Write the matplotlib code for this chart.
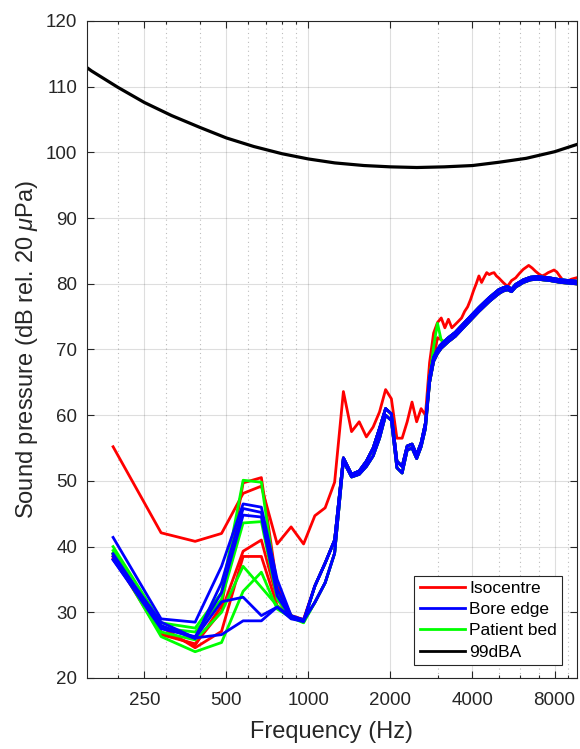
import numpy as np
import matplotlib
matplotlib.use("Agg")
import matplotlib.pyplot as plt
from matplotlib.lines import Line2D
from matplotlib.ticker import FixedLocator, LogLocator, NullFormatter

plt.rcParams["font.family"] = ["Liberation Sans", "DejaVu Sans"]
plt.rcParams["mathtext.fontset"] = "custom"
plt.rcParams["mathtext.rm"] = "Liberation Sans"
plt.rcParams["mathtext.it"] = "Liberation Sans:italic"

AX_COL = "#262626"

# ---- 99 dBA limit curve -------------------------------------------------
dba_freq = [154, 160, 200, 250, 315, 400, 500, 630, 800, 1000, 1250, 1600,
            2000, 2500, 3150, 4000, 5000, 6300, 8000, 9650]
dba_db = [112.9, 112.4, 109.9, 107.6, 105.6, 103.8, 102.2, 100.9, 99.8, 99.0,
          98.4, 98.0, 97.8, 97.7, 97.8, 98.0, 98.5, 99.1, 100.1, 101.2]

# ---- measured spectra (96 Hz bins) --------------------------------------
lf_freq = [192, 288, 384, 480, 576, 672, 768, 864, 960]

# isocentre
iso_lf_b = [38.9, 27.0, 25.0, 31.0, 49.7, 50.5, 34.0, 29.5, 28.8]
iso_lf_c = [38.5, 26.6, 25.2, 30.2, 39.3, 41.0, 32.0, 29.3, 28.7]
iso_lf_d = [38.2, 27.8, 24.6, 27.1, 38.5, 38.5, 31.0, 29.5, 28.9]
# bore edge
bore_lf_a = [41.4, 29.0, 28.5, 37.0, 46.5, 46.0, 35.0, 29.5, 28.8]
bore_lf_b = [38.9, 28.0, 26.0, 34.5, 45.8, 45.2, 33.5, 29.3, 28.7]
bore_lf_c = [38.0, 27.5, 26.3, 33.0, 44.8, 44.5, 32.5, 29.2, 28.6]
bore_lf_d = [38.5, 28.5, 26.1, 31.6, 32.3, 29.5, 30.8, 29.4, 28.9]
bore_lf_e = [38.0, 27.8, 26.1, 26.6, 28.7, 28.7, 30.8, 29.0, 28.6]
# patient bed
bed_lf_a = [40.0, 28.4, 27.6, 33.0, 50.1, 49.8, 33.0, 29.5, 28.6]
bed_lf_b = [39.4, 27.6, 27.0, 32.0, 43.6, 43.8, 32.0, 29.3, 28.5]
bed_lf_c = [38.8, 26.3, 24.0, 25.4, 33.2, 36.1, 30.5, 29.2, 28.4]
bed_lf_d = [39.0, 27.0, 25.8, 30.0, 37.0, 33.8, 31.0, 29.3, 28.5]

# common band above 1 kHz (upper / lower edge of the bundle)
mid_freq = [1056, 1152, 1248, 1344, 1440, 1536, 1632, 1728, 1824, 1920,
            2016, 2112, 2208, 2304, 2400, 2496, 2592, 2688]
mid_hi = [34.0, 37.5, 41.0, 53.5, 51.0, 51.5, 53.0, 55.0, 58.0, 61.0,
          60.2, 53.0, 52.2, 55.3, 55.6, 54.0, 55.8, 58.8]
mid_lo = [31.5, 34.5, 39.0, 53.0, 50.6, 51.0, 52.2, 53.8, 56.5, 60.0,
          59.2, 52.0, 51.2, 54.7, 55.0, 53.4, 55.2, 58.0]
hf_freq = [2784, 2880, 2976, 3072, 3264, 3456, 3840, 4224, 4608, 4992,
           5184, 5376, 5568, 5760, 6144, 6528, 6912, 7680, 8448, 9600]
hf_hi = [65.8, 68.8, 70.0, 70.8, 71.8, 72.6, 74.6, 76.4, 77.9, 79.1,
         79.4, 79.6, 79.2, 79.9, 80.6, 81.0, 81.1, 80.9, 80.6, 80.4]
hf_lo = [65.0, 68.2, 69.4, 70.2, 71.2, 72.0, 74.0, 75.8, 77.3, 78.5,
         78.9, 79.1, 78.8, 79.5, 80.2, 80.6, 80.7, 80.5, 80.2, 80.0]

# isocentre run that stays above the rest
iso_a_freq = [192, 288, 384, 480, 576, 672, 768, 864, 960, 1056, 1152, 1248,
              1344, 1440, 1536, 1632, 1728, 1824, 1920, 2016, 2112, 2208,
              2304, 2400, 2496, 2592, 2688, 2784, 2880, 2976, 3072, 3168,
              3264, 3360, 3456, 3552, 3648, 3744, 3840, 3936, 4032, 4128,
              4224, 4320, 4416, 4512, 4608, 4704, 4800, 4896, 4992, 5184,
              5376, 5568, 5760, 5952, 6144, 6336, 6432, 6624, 6816, 7008,
              7200, 7392, 7584, 7776, 7968, 8160, 8352, 8640, 8928, 9216, 9600]
iso_a_db = [55.2, 42.1, 40.8, 42.0, 48.1, 49.2, 40.4, 43.0, 40.4, 44.7, 45.9,
            49.8, 63.6, 57.5, 59.0, 56.7, 58.2, 60.5, 63.9, 62.5, 56.5, 56.5,
            59.0, 62.0, 59.0, 61.0, 60.0, 68.0, 72.5, 74.1, 74.8, 73.3, 74.6,
            73.3, 73.8, 74.3, 74.8, 75.8, 76.5, 77.6, 78.9, 80.0, 81.2, 80.2,
            81.0, 81.7, 81.4, 81.6, 81.7, 81.2, 80.9, 80.2, 79.6, 80.5, 80.9,
            81.6, 82.2, 82.6, 82.8, 82.4, 81.9, 81.5, 81.2, 81.4, 81.7, 81.9,
            82.1, 81.8, 81.2, 80.4, 80.4, 80.7, 80.9]

# short excursions around 3 kHz
bed_spike_freq = [2784, 2880, 2976, 3072, 3168, 3264]
bed_spike_db = [65.5, 70.4, 74.0, 71.4, 71.2, 71.6]
iso_spike_freq = [2880, 2976, 3072, 3168]
iso_spike_db = [68.5, 71.8, 71.5, 71.0]

XTICKS = [250, 500, 1000, 2000, 4000, 8000]
YTICKS = list(range(20, 121, 10))

RED, BLUE, GREEN = "#ff0000", "#0000ff", "#00ff00"
LW = 2.0


def spectrum(lf, mid, hf):
    f = lf_freq + mid_freq + hf_freq
    return f, lf + mid + hf


fig = plt.figure(figsize=(5.8, 7.49), dpi=100)
ax = fig.add_axes([87 / 580, 1 - 678 / 749, (576.7 - 87) / 580, 657 / 749])

# isocentre
ax.plot(iso_a_freq, iso_a_db, color=RED, lw=LW)
for lf, mid, hf in [(iso_lf_b, mid_hi, hf_hi), (iso_lf_c, mid_lo, hf_lo),
                    (iso_lf_d, mid_hi, hf_lo)]:
    ax.plot(*spectrum(lf, mid, hf), color=RED, lw=LW)
ax.plot(iso_spike_freq, iso_spike_db, color=RED, lw=LW)

# patient bed
for lf, mid, hf in [(bed_lf_a, mid_lo, hf_hi), (bed_lf_b, mid_hi, hf_lo),
                    (bed_lf_c, mid_lo, hf_lo), (bed_lf_d, mid_hi, hf_hi)]:
    ax.plot(*spectrum(lf, mid, hf), color=GREEN, lw=LW)
ax.plot(bed_spike_freq, bed_spike_db, color=GREEN, lw=LW)

# bore edge
for lf, mid, hf in [(bore_lf_a, mid_hi, hf_hi), (bore_lf_b, mid_lo, hf_lo),
                    (bore_lf_c, mid_hi, hf_lo), (bore_lf_d, mid_lo, hf_hi),
                    (bore_lf_e, mid_hi, hf_hi)]:
    ax.plot(*spectrum(lf, mid, hf), color=BLUE, lw=LW)

ax.plot(dba_freq, dba_db, color="black", lw=LW + 0.3)

ax.set_xscale("log")
ax.set_xlim(154, 9650)
ax.set_ylim(20, 120)
ax.xaxis.set_major_locator(FixedLocator(XTICKS))
ax.xaxis.set_minor_locator(LogLocator(base=10, subs=np.arange(2, 10)))
ax.xaxis.set_minor_formatter(NullFormatter())
ax.set_xticklabels([str(t) for t in XTICKS])
ax.set_yticks(YTICKS)

ax.grid(True, which="major", color=AX_COL, alpha=0.15, lw=0.8)
ax.grid(True, which="minor", axis="x", color=AX_COL, alpha=0.3, lw=0.8,
        linestyle=(0, (1, 3)))
ax.set_axisbelow(True)

ax.tick_params(which="both", direction="in", top=True, right=True,
               colors=AX_COL, labelsize=13.5, width=0.8)
ax.tick_params(which="major", length=5)
ax.tick_params(which="minor", length=2.5)
ax.tick_params(axis="x", pad=10)
ax.tick_params(axis="y", pad=7)
for sp in ax.spines.values():
    sp.set_color(AX_COL)
    sp.set_linewidth(0.8)

ax.set_xlabel("Frequency (Hz)", fontsize=17, color=AX_COL)
ax.set_ylabel(r"Sound pressure (dB rel. 20 $\mu$Pa)", fontsize=17, color=AX_COL)
ax.xaxis.set_label_coords(0.5, -0.066)
ax.yaxis.set_label_coords(-0.096, 0.5)

handles = [Line2D([], [], color=RED, lw=LW),
           Line2D([], [], color=BLUE, lw=LW),
           Line2D([], [], color=GREEN, lw=LW),
           Line2D([], [], color="black", lw=LW)]
leg = ax.legend(handles, ["Isocentre", "Bore edge", "Patient bed", "99dBA"],
                loc="lower right", bbox_to_anchor=(0.970, 0.020),
                borderaxespad=0, fontsize=12.5, handlelength=2.6,
                handletextpad=0.25, labelspacing=0.35, borderpad=0.3,
                fancybox=False, framealpha=1, edgecolor=AX_COL)
leg.get_frame().set_linewidth(0.8)

fig.savefig("out.png", dpi=100, facecolor="white")
